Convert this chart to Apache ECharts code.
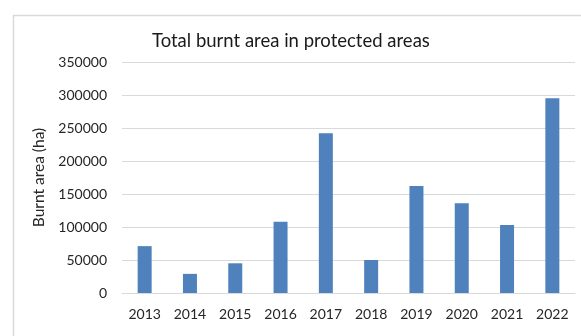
<!DOCTYPE html>
<html>
<head>
<meta charset="utf-8">
<script src="https://cdn.jsdelivr.net/npm/echarts@6/dist/echarts.min.js"></script>
<style>
html,body{margin:0;padding:0;background:#fff;}
#c{width:581px;height:336px;}
</style>
</head>
<body>
<div id="c"></div>
<script>
const titleText = "Total burnt area in protected areas";
const yAxisName = "Burnt area (ha)";
const years = ["2013","2014","2015","2016","2017","2018","2019","2020","2021","2022"];
const burntArea = [71000, 29000, 45000, 108000, 242000, 50000, 162000, 136000, 103000, 295000];

const chart = echarts.init(document.getElementById('c'), null, {renderer:'canvas'});
chart.setOption({
  animation: false,
  backgroundColor: '#ffffff',
  textStyle: {fontFamily: 'Lato'},
  graphic: [{
    type: 'rect', left: 11, top: 13, z: -1,
    shape: {width: 620, height: 400},
    style: {fill: 'none', stroke: '#d9d9d9', lineWidth: 1.5}
  }],
  title: {
    text: titleText, left: 147, top: 27,
    textStyle: {fontFamily: 'Lato', fontSize: 18.5, fontWeight: 'normal', color: '#1a1a1a'}
  },
  grid: {left: 122, right: 6, top: 62, bottom: 43},
  xAxis: {
    type: 'category', data: years,
    axisLine: {lineStyle: {color: '#d9d9d9', width: 1}},
    axisTick: {show: false},
    axisLabel: {color: '#262626', fontSize: 14, margin: 14, fontFamily: 'Lato'}
  },
  yAxis: {
    type: 'value', min: 0, max: 350000, interval: 50000,
    name: yAxisName, nameLocation: 'middle', nameGap: 74, nameRotate: 90,
    nameTextStyle: {color: '#262626', fontSize: 15.5, fontFamily: 'Lato'},
    axisLine: {show: false}, axisTick: {show: false},
    axisLabel: {color: '#262626', fontSize: 14, margin: 15, fontFamily: 'Lato',
      formatter: function (v) { return String(v); }},
    splitLine: {lineStyle: {color: '#d9d9d9', width: 1}}
  },
  series: [{
    type: 'bar', data: burntArea, barWidth: 14,
    itemStyle: {color: '#4f81bd'}
  }]
});
</script>
</body>
</html>
